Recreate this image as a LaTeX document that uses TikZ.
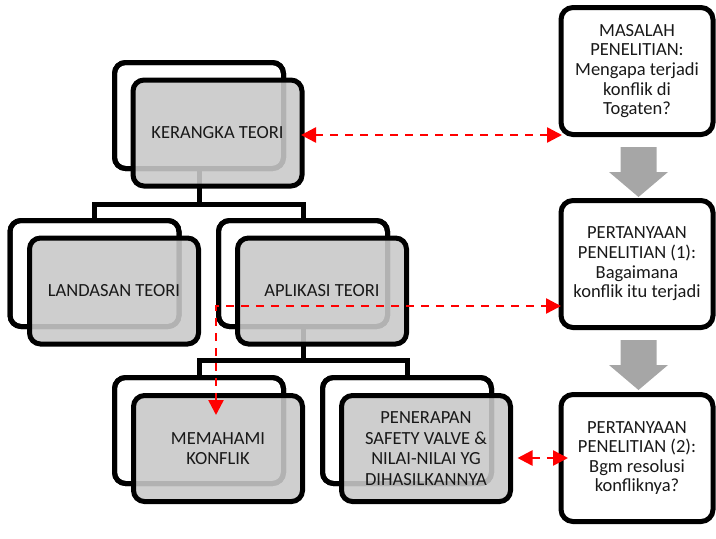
\documentclass[tikz,border=0pt]{standalone}
\usepackage{fontspec}
\setmainfont{Carlito}
\usetikzlibrary{arrows.meta,calc}

\definecolor{boxfill}{gray}{0.79}
\definecolor{arrowgray}{gray}{0.65}
\definecolor{textgray}{gray}{0.1}
\definecolor{linkred}{RGB}{255,0,0}

\tikzset{
  backbox/.style={draw=black, fill=white, line width=5pt, rounded corners=11pt,
    minimum width=169pt, minimum height=106pt, inner sep=0pt, outer sep=0pt,
    anchor=north west},
  frontbox/.style={draw=black, fill=boxfill, fill opacity=0.89, text opacity=1,
    line width=5pt, rounded corners=11pt, minimum width=169pt, minimum height=106pt,
    inner sep=0pt, outer sep=0pt, anchor=north west, align=center,
    text=textgray, font=\fontsize{18.5}{20.5}\selectfont},
  qbox/.style={draw=black, fill=white, line width=5pt, rounded corners=12pt,
    minimum width=152pt, minimum height=127pt, inner sep=0pt, outer sep=0pt,
    anchor=north west, align=center, text=textgray,
    font=\fontsize{18.5}{19.6}\selectfont},
  tree/.style={draw=black, line width=5pt},
  redlink/.style={draw=linkred, line width=2.5pt, dash pattern=on 8pt off 7pt,
    {Triangle[length=15pt,width=15pt]}-{Triangle[length=15pt,width=15pt]}},
  pics/blockdown/.style={code={
    \fill[arrowgray] (-18,0) -- (18,0) -- (18,25) -- (29.5,25) -- (0,50)
      -- (-29.5,25) -- (-18,25) -- cycle;}}
}

\begin{document}
\begin{tikzpicture}[x=1pt, y=-1pt]
  \useasboundingbox (0,0) rectangle (716,539);

  % back outlines of the tree boxes
  \node[backbox] (kb) at (114.5,62.5) {};
  \node[backbox] (lb) at (10,220.5) {};
  \node[backbox] (ab) at (218.5,220.5) {};
  \node[backbox] (mb) at (114.5,377.5) {};
  \node[backbox] (pb) at (322.5,377.5) {};

  % tree connectors (under the shaded front boxes)
  \draw[tree] (kb.south) -- ($(kb.south)+(0,36)$) coordinate (kbar)
    -| (lb.north);
  \draw[tree] (kbar) -| (ab.north);
  \draw[tree] (ab.south) -- ($(ab.south)+(0,34)$) coordinate (abar)
    -| (mb.north);
  \draw[tree] (abar) -| (pb.north);

  % redraw back outlines over connector ends
  \node[backbox, fill=none] at (114.5,62.5) {};
  \node[backbox, fill=none] at (10,220.5) {};
  \node[backbox, fill=none] at (218.5,220.5) {};
  \node[backbox, fill=none] at (114.5,377.5) {};
  \node[backbox, fill=none] at (322.5,377.5) {};

  % shaded front boxes
  \node[frontbox] (kf) at (133,80) {KERANGKA TEORI};
  \node[frontbox] (lf) at (29.5,238) {LANDASAN TEORI};
  \node[frontbox] (af) at (237.5,238) {APLIKASI TEORI};
  \node[frontbox] (mf) at (133.5,395.5) {MEMAHAMI\\KONFLIK};
  \node[frontbox] (pf) at (341.5,395.5)
    {PENERAPAN\\SAFETY VALVE \&\\NILAI-NILAI YG\\DIHASILKANNYA};

  % research questions column
  \node[qbox] (mas) at (561,7.5)
    {MASALAH\\PENELITIAN:\\Mengapa terjadi\\konflik di\\Togaten?};
  \node[qbox] (p1) at (561,200.5)
    {PERTANYAAN\\PENELITIAN (1):\\Bagaimana\\konflik itu terjadi};
  \node[qbox] (p2) at (561,394.5)
    {PERTANYAAN\\PENELITIAN (2):\\Bgm resolusi\\konfliknya?};

  % block arrows between the questions
  \pic at ($(mas.south)+(1.5,12.5)$) {blockdown};
  \pic at ($(p1.south)+(1.5,12.5)$) {blockdown};

  % dashed red links
  \draw[redlink] ($(kf.east)+(-1,2)$) -- ($(kf.east -| mas.west)+(1,2)$);
  \coordinate (corner) at (216,306);
  \coordinate (mtip) at (216,415);
  \draw[redlink] (mtip) -- (corner) -- (corner -| p1.west);
  \draw[redlink, shorten <=7pt, shorten >=-7pt] (p2.west -| pf.east) -- (p2.west);
\end{tikzpicture}
\end{document}
